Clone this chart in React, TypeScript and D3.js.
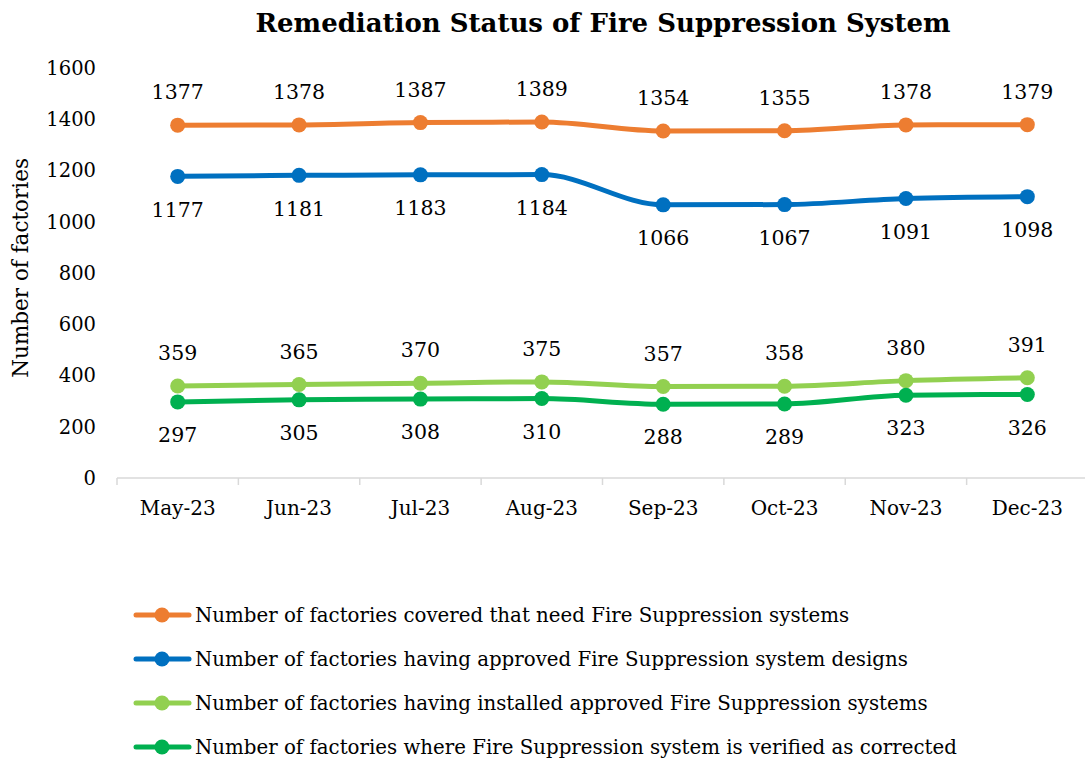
import React from "react";
import * as d3 from "d3";

const months = ["May-23", "Jun-23", "Jul-23", "Aug-23", "Sep-23", "Oct-23", "Nov-23", "Dec-23"];
const needFs = [1377, 1378, 1387, 1389, 1354, 1355, 1378, 1379];
const approvedDesign = [1177, 1181, 1183, 1184, 1066, 1067, 1091, 1098];
const installed = [359, 365, 370, 375, 357, 358, 380, 391];
const verified = [297, 305, 308, 310, 288, 289, 323, 326];
const yTicks = [0, 200, 400, 600, 800, 1000, 1200, 1400, 1600];

const seriesNames = [
  "Number of factories covered that need Fire Suppression systems",
  "Number of factories having approved Fire Suppression system designs",
  "Number of factories having installed approved Fire Suppression systems",
  "Number of factories where Fire Suppression system is verified as corrected",
];

const series = [
  { name: seriesNames[0], values: needFs, color: "#ED7D31", above: true },
  { name: seriesNames[1], values: approvedDesign, color: "#0070C0", above: false },
  { name: seriesNames[2], values: installed, color: "#92D050", above: true },
  { name: seriesNames[3], values: verified, color: "#00B050", above: false },
];

const W = 1085;
const H = 763;
const font = "'DejaVu Serif', 'Liberation Serif', serif";

export default function App() {
  const x = d3.scaleBand().domain(months).range([117, 1088]);
  const y = d3.scaleLinear().domain([0, 1600]).range([478, 68]);
  const cx = (m: string) => (x(m) as number) + x.bandwidth() / 2;

  const line = d3
    .line<number>()
    .x((_, i) => cx(months[i]))
    .y((d) => y(d))
    .curve(d3.curveMonotoneX);

  const boundaries = months.map((m) => x(m) as number).concat([x.range()[1]]);

  return (
    <svg
      width={W}
      height={H}
      style={{ position: "absolute", left: 0, top: 0, background: "#fff" }}
      fontFamily={font}
    >
      <text x={603} y={32} textAnchor="middle" fontSize={26} fontWeight="bold" fill="#000">
        Remediation Status of Fire Suppression System
      </text>

      {/* y axis labels */}
      {yTicks.map((t) => (
        <text key={t} x={96} y={y(t)} dy="0.35em" textAnchor="end" fontSize={19.5} fill="#000">
          {t}
        </text>
      ))}
      <text
        transform={`translate(28,${y(820)}) rotate(-90)`}
        textAnchor="middle"
        fontSize={21.5}
        fill="#000"
      >
        Number of factories
      </text>

      {/* x axis */}
      <line x1={x.range()[0]} x2={x.range()[1]} y1={y(0)} y2={y(0)} stroke="#d9d9d9" strokeWidth={1.5} />
      {boundaries.map((b, i) => (
        <line key={i} x1={b} x2={b} y1={y(0)} y2={y(0) + 7} stroke="#d9d9d9" strokeWidth={1.5} />
      ))}
      {months.map((m) => (
        <text key={m} x={cx(m)} y={508} dy="0.35em" textAnchor="middle" fontSize={20} fill="#000">
          {m}
        </text>
      ))}

      {/* series */}
      {series.map((s) => (
        <g key={s.name}>
          <path d={line(s.values) || ""} fill="none" stroke={s.color} strokeWidth={5} strokeLinecap="round" />
          {s.values.map((v, i) => (
            <circle key={i} cx={cx(months[i])} cy={y(v)} r={7.5} fill={s.color} />
          ))}
          {s.values.map((v, i) => (
            <text
              key={"l" + i}
              x={cx(months[i])}
              y={y(v) + (s.above ? -33 : 33)}
              dy="0.35em"
              textAnchor="middle"
              fontSize={20.5}
              fill="#000"
            >
              {v}
            </text>
          ))}
        </g>
      ))}

      {/* legend */}
      {series.map((s, i) => {
        const ly = 615 + i * 44;
        return (
          <g key={"lg" + i}>
            <line x1={136} x2={189} y1={ly} y2={ly} stroke={s.color} strokeWidth={5} strokeLinecap="round" />
            <circle cx={162} cy={ly} r={7.5} fill={s.color} />
            <text x={195} y={ly} dy="0.35em" fontSize={19.8} fill="#000">
              {s.name}
            </text>
          </g>
        );
      })}
    </svg>
  );
}
